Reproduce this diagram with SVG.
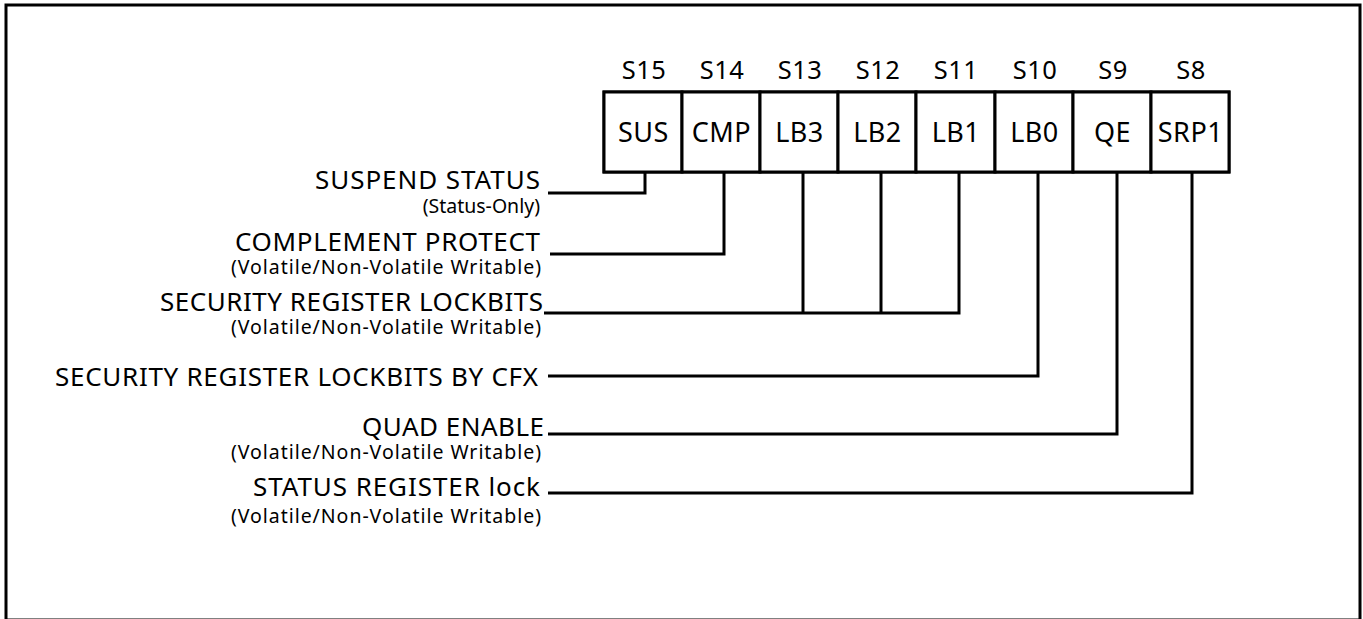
<svg xmlns="http://www.w3.org/2000/svg" width="1363" height="619" viewBox="0 0 1363 619">
<style>
text{font-family:"Noto Sans","Open Sans","Liberation Sans",sans-serif;fill:#000}
.bit{font-size:25.5px;text-anchor:middle;letter-spacing:0.5px}
.cell{font-size:27px;text-anchor:middle;letter-spacing:0.5px}
.lbl{font-size:26px;text-anchor:end}
.sub{font-size:19.5px;text-anchor:end}
.ln{fill:none;stroke:#000;stroke-width:3}
.box{fill:#fff;stroke:#000;stroke-width:3}
</style>
<rect x="6" y="5" width="1354" height="615" fill="#fff" stroke="#000" stroke-width="3"/>
<g id="register">
<rect class="box" x="604" y="92" width="625" height="80"/>
<g id="bits">
<text class="bit" x="644" y="79">S15</text>
<text class="bit" x="722" y="79">S14</text>
<text class="bit" x="800" y="79">S13</text>
<text class="bit" x="878" y="79">S12</text>
<text class="bit" x="956" y="79">S11</text>
<text class="bit" x="1035" y="79">S10</text>
<text class="bit" x="1113" y="79">S9</text>
<text class="bit" x="1191" y="79">S8</text>
</g>
<g id="cell-SUS"><rect class="box" x="604" y="92" width="78" height="80"/><text class="cell" x="643.5" y="142">SUS</text></g>
<g id="cell-CMP"><rect class="box" x="682" y="92" width="78" height="80"/><text class="cell" x="721.5" y="142">CMP</text></g>
<g id="cell-LB3"><rect class="box" x="760" y="92" width="78" height="80"/><text class="cell" x="799.5" y="142">LB3</text></g>
<g id="cell-LB2"><rect class="box" x="838" y="92" width="78" height="80"/><text class="cell" x="877.5" y="142">LB2</text></g>
<g id="cell-LB1"><rect class="box" x="916" y="92" width="79" height="80"/><text class="cell" x="956" y="142">LB1</text></g>
<g id="cell-LB0"><rect class="box" x="995" y="92" width="78" height="80"/><text class="cell" x="1034.5" y="142">LB0</text></g>
<g id="cell-QE"><rect class="box" x="1073" y="92" width="78" height="80"/><text class="cell" x="1112.5" y="142">QE</text></g>
<g id="cell-SRP1"><rect class="box" x="1151" y="92" width="78" height="80"/><text class="cell" x="1190.5" y="142">SRP1</text></g>
</g>
<g id="connectors">
<polyline class="ln" points="548,193 645,193 645,172"/>
<polyline class="ln" points="550,254 724,254 724,172"/>
<polyline class="ln" points="544,313 959,313 959,172"/>
<line class="ln" x1="803" y1="172" x2="803" y2="313"/>
<line class="ln" x1="881" y1="172" x2="881" y2="313"/>
<polyline class="ln" points="548,376 1038,376 1038,172"/>
<polyline class="ln" points="548,434 1117,434 1117,172"/>
<polyline class="ln" points="548,493 1192,493 1192,172"/>
</g>
<g id="label-sus"><text class="lbl" x="540" y="189" textLength="225" lengthAdjust="spacing">SUSPEND STATUS</text><text class="sub" x="540" y="213">(Status-Only)</text></g>
<g id="label-cmp"><text class="lbl" x="540" y="251" textLength="305" lengthAdjust="spacing">COMPLEMENT PROTECT</text><text class="sub" x="541" y="274" textLength="310" lengthAdjust="spacing">(Volatile/Non-Volatile Writable)</text></g>
<g id="label-lb"><text class="lbl" x="543" y="311" textLength="383" lengthAdjust="spacing">SECURITY REGISTER LOCKBITS</text><text class="sub" x="541" y="334" textLength="310" lengthAdjust="spacing">(Volatile/Non-Volatile Writable)</text></g>
<g id="label-lb0"><text class="lbl" x="538" y="386" textLength="483" lengthAdjust="spacing">SECURITY REGISTER LOCKBITS BY CFX</text></g>
<g id="label-qe"><text class="lbl" x="544" y="436" textLength="182" lengthAdjust="spacing">QUAD ENABLE</text><text class="sub" x="541" y="459" textLength="310" lengthAdjust="spacing">(Volatile/Non-Volatile Writable)</text></g>
<g id="label-srp"><text class="lbl" x="540" y="496" textLength="287" lengthAdjust="spacing">STATUS REGISTER lock</text><text class="sub" x="541" y="523" textLength="310" lengthAdjust="spacing">(Volatile/Non-Volatile Writable)</text></g>
</svg>
